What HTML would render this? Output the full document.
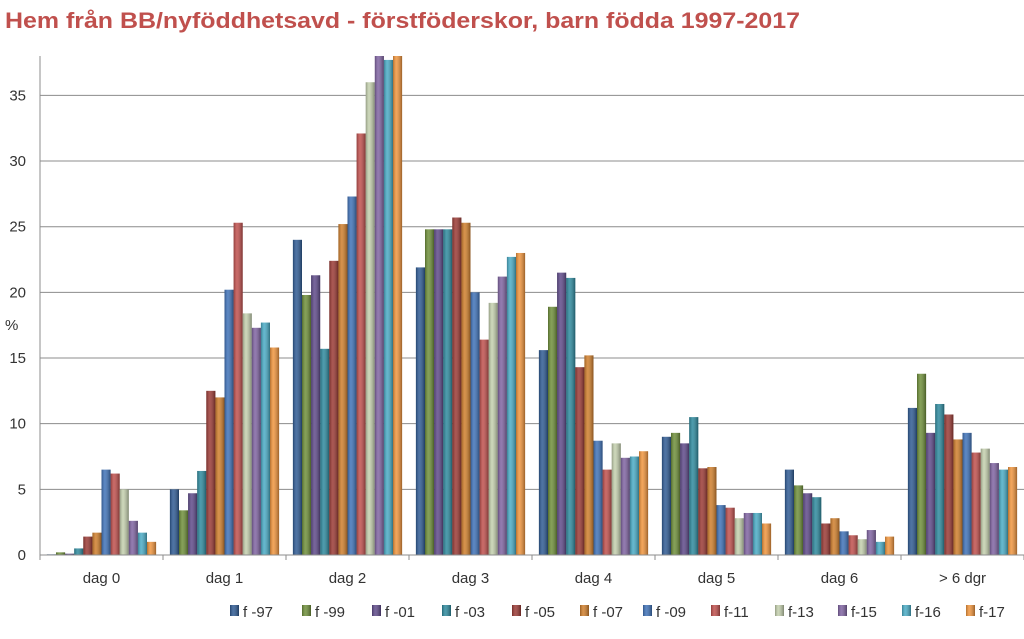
<!DOCTYPE html>
<html><head><meta charset="utf-8">
<style>
body{margin:0;background:#fff;width:1024px;height:634px;overflow:hidden;font-family:"Liberation Sans",sans-serif;}
</style></head>
<body>
<svg id="chart" width="1024" height="634" xmlns="http://www.w3.org/2000/svg">
<defs>
<linearGradient id="shade" x1="0" x2="1" y1="0" y2="0">
<stop offset="0" stop-color="#000" stop-opacity="0.25"/>
<stop offset="0.35" stop-color="#fff" stop-opacity="0.15"/>
<stop offset="1" stop-color="#000" stop-opacity="0.35"/>
</linearGradient>
</defs>
<text x="5" y="28" font-size="22" font-weight="bold" fill="#c0504d" textLength="795" lengthAdjust="spacingAndGlyphs">Hem från BB/nyföddhetsavd - förstföderskor, barn födda 1997-2017</text>
<text x="5" y="330" font-size="15" fill="#333">%</text>
<g id="grid"></g><g id="bars"></g><g id="axes"></g><g id="legend"></g>
</svg>
<script>
const categories=["dag 0","dag 1","dag 2","dag 3","dag 4","dag 5","dag 6","> 6 dgr"];
const seriesNames=["f -97","f -99","f -01","f -03","f -05","f -07","f -09","f-11","f-13","f-15","f-16","f-17"];
const seriesColors=["#2f5b94","#6f8f3a","#5f4a8a","#2e8a9e","#9b3a35","#d07f2c","#3f72b8","#c0504d","#c4d0ae","#8064a2","#4aacc6","#f0953d"];
const s97=[0.05,5.0,24.0,21.9,15.6,9.0,6.5,11.2];
const s99=[0.2,3.4,19.8,24.8,18.9,9.3,5.3,13.8];
const s01=[0.1,4.7,21.3,24.8,21.5,8.5,4.7,9.3];
const s03=[0.5,6.4,15.7,24.8,21.1,10.5,4.4,11.5];
const s05=[1.4,12.5,22.4,25.7,14.3,6.6,2.4,10.7];
const s07=[1.7,12.0,25.2,25.3,15.2,6.7,2.8,8.8];
const s09=[6.5,20.2,27.3,20.0,8.7,3.8,1.8,9.3];
const s11=[6.2,25.3,32.1,16.4,6.5,3.6,1.5,7.8];
const s13=[5.0,18.4,36.0,19.2,8.5,2.8,1.2,8.1];
const s15=[2.6,17.3,38.0,21.2,7.4,3.2,1.9,7.0];
const s16=[1.7,17.7,37.7,22.7,7.5,3.2,1.0,6.5];
const s17=[1.0,15.8,38.0,23.0,7.9,2.4,1.4,6.7];
const series=[s97,s99,s01,s03,s05,s07,s09,s11,s13,s15,s16,s17];
const yTicks=[0,5,10,15,20,25,30,35];
const yMax=38;
const NS="http://www.w3.org/2000/svg";
const L=40,R=1024,T=56,B=555;
const gw=(R-L)/categories.length;
const y=v=>B-(v/yMax)*(B-T);
const bw=9.1, gpad=(gw-bw*12)/2;
function mk(tag,attrs,parent){const e=document.createElementNS(NS,tag);for(const k in attrs)e.setAttribute(k,attrs[k]);parent.appendChild(e);return e;}
const grid=document.getElementById('grid'),bars=document.getElementById('bars'),axes=document.getElementById('axes'),leg=document.getElementById('legend');
yTicks.forEach(t=>{
 const ln=mk('line',{x1:L,x2:R,y1:y(t),y2:y(t),stroke:'#8c8c8c','stroke-width':1},grid);
 
 
 const tx=mk('text',{x:L-14,y:y(t)+5,'font-size':15,fill:'#333','text-anchor':'end'},axes);
 tx.textContent=t;
 
 
});
series.forEach((vals,si)=>{
 vals.forEach((v,ci)=>{
  const x=L+ci*gw+gpad+si*bw;
  const r=mk('rect',{x:x,y:y(v),width:bw,height:B-y(v),fill:seriesColors[si]},bars);
  
  
  const o=mk('rect',{x:x,y:y(v),width:bw,height:B-y(v),fill:'url(#shade)'},bars);
  
  
 });
});
const ax=mk('line',{x1:L,x2:R,y1:B,y2:B,stroke:'#8c8c8c'},axes);


const ay=mk('line',{x1:L,x2:L,y1:T,y2:B,stroke:'#8c8c8c'},axes);


for(let i=0;i<=categories.length;i++){
 const tk=mk('line',{x1:L+i*gw,x2:L+i*gw,y1:B,y2:B+5,stroke:'#8c8c8c'},axes);
 
 
}
categories.forEach((c,i)=>{
 const tx=mk('text',{x:L+i*gw+gw/2,y:583,'font-size':15,fill:'#333','text-anchor':'middle'},axes);
 tx.textContent=c;
 
 
});
const legX=[230,302,372,442,512,580,643,711,775,838,902,966];
seriesNames.forEach((n,i)=>{
 const g=mk('g',{},leg);
 
 
 mk('rect',{x:legX[i],y:605,width:9,height:11,fill:seriesColors[i]},g);
 mk('rect',{x:legX[i],y:605,width:9,height:11,fill:'url(#shade)'},g);
 const t=mk('text',{x:legX[i]+13,y:617,'font-size':15,fill:'#333'},g);
 t.textContent=n;
});
</script>
</body></html>
